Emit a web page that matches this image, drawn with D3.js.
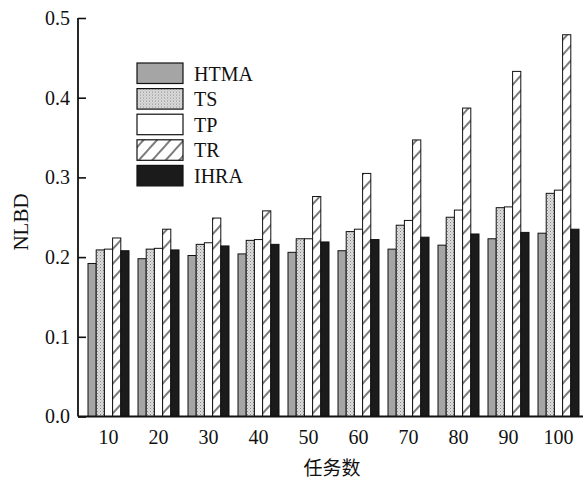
<!DOCTYPE html>
<html>
<head>
<meta charset="utf-8">
<script src="https://cdn.jsdelivr.net/npm/d3@7"></script>
<style>
  body { margin: 0; background: #fff; }
</style>
</head>
<body>
<svg id="chart" width="584" height="482"></svg>
<script>
// task counts on the x axis
var tasks = ['10', '20', '30', '40', '50', '60', '70', '80', '90', '100'];
var series = ['HTMA', 'TS', 'TP', 'TR', 'IHRA'];
var yTicks = [0, 0.1, 0.2, 0.3, 0.4, 0.5];

// NLBD values
var htma = [0.192, 0.198, 0.202, 0.204, 0.206, 0.208, 0.210, 0.215, 0.223, 0.230];
var ts   = [0.209, 0.210, 0.216, 0.221, 0.223, 0.232, 0.240, 0.250, 0.262, 0.280];
var tp   = [0.210, 0.211, 0.218, 0.222, 0.223, 0.235, 0.246, 0.259, 0.263, 0.284];
var tr   = [0.224, 0.235, 0.249, 0.258, 0.276, 0.305, 0.347, 0.387, 0.433, 0.479];
var ihra = [0.208, 0.209, 0.214, 0.216, 0.219, 0.222, 0.225, 0.229, 0.231, 0.235];

var values = { HTMA: htma, TS: ts, TP: tp, TR: tr, IHRA: ihra };

var serif = '"Liberation Serif", serif';

var svg = d3.select('#chart');
var defs = svg.append('defs');

// stipple for TS
var dots = defs.append('pattern').attr('id', 'dots')
  .attr('patternUnits', 'userSpaceOnUse').attr('width', 3).attr('height', 3);
dots.append('rect').attr('width', 3).attr('height', 3).attr('fill', '#dedede');
dots.append('rect').attr('x', 0).attr('y', 0).attr('width', 1).attr('height', 1).attr('fill', '#858585');
dots.append('rect').attr('x', 1.5).attr('y', 1.5).attr('width', 1).attr('height', 1).attr('fill', '#a0a0a0');

// diagonal hatch for TR
var hatch = defs.append('pattern').attr('id', 'hatch')
  .attr('patternUnits', 'userSpaceOnUse').attr('width', 10).attr('height', 10)
  .attr('patternTransform', 'rotate(-48)');
hatch.append('rect').attr('width', 10).attr('height', 10).attr('fill', '#fff');
hatch.append('line').attr('x1', 0).attr('x2', 10).attr('y1', 5).attr('y2', 5)
  .attr('stroke', '#111').attr('stroke-width', 1.1);

var fills = { HTMA: '#a5a5a5', TS: 'url(#dots)', TP: '#fff', TR: 'url(#hatch)', IHRA: '#1b1b1b' };

var x0 = 78, x1 = 583, yBase = 416.5, yTop = 18;

var x = d3.scaleBand().domain(tasks).range([83.5, 583.5])
  .paddingInner(0.18).paddingOuter(0.09);
var xs = d3.scaleBand().domain(series).range([0, x.bandwidth()]);
var y = d3.scaleLinear().domain([0, 0.5]).range([yBase, yTop]);

// bars
var groups = svg.append('g').selectAll('g')
  .data(tasks)
  .join('g')
  .attr('transform', function(d) { return 'translate(' + x(d) + ',0)'; });

groups.selectAll('rect')
  .data(function(d, i) {
    return series.map(function(s) { return { key: s, value: values[s][i] }; });
  })
  .join('rect')
  .attr('x', function(d) { return xs(d.key); })
  .attr('y', function(d) { return y(d.value); })
  .attr('width', xs.bandwidth())
  .attr('height', function(d) { return yBase - y(d.value); })
  .attr('fill', function(d) { return fills[d.key]; })
  .attr('stroke', '#111')
  .attr('stroke-width', 1);

// y axis, ticks point inward
var yAxis = svg.append('g').attr('transform', 'translate(' + x0 + ',0)')
  .call(d3.axisRight(y).tickValues(yTicks).tickSize(8).tickFormat(d3.format('.1f')));
yAxis.attr('font-family', serif);
yAxis.select('.domain').remove();
yAxis.selectAll('.tick line').attr('stroke', '#111').attr('stroke-width', 1.6);
yAxis.selectAll('.tick text')
  .attr('x', -8).attr('text-anchor', 'end')
  .style('font-family', serif).style('font-size', '20px').attr('fill', '#111');

svg.append('line').attr('x1', x0).attr('x2', x0).attr('y1', y(0.5)).attr('y2', yBase)
  .attr('stroke', '#111').attr('stroke-width', 1.8);
svg.append('line').attr('x1', x0).attr('x2', x1).attr('y1', yBase).attr('y2', yBase)
  .attr('stroke', '#111').attr('stroke-width', 1.8);

// x labels
var xAxis = svg.append('g').attr('transform', 'translate(0,' + yBase + ')')
  .call(d3.axisBottom(x).tickSize(0).tickPadding(12));
xAxis.attr('font-family', serif);
xAxis.select('.domain').remove();
xAxis.selectAll('.tick text')
  .attr('dy', '0.75em')
  .style('font-family', serif).style('font-size', '20px').attr('fill', '#111');

// axis titles
svg.append('text').attr('x', 332).attr('y', 475).attr('text-anchor', 'middle')
  .style('font-family', '"Noto Sans CJK SC", sans-serif').style('font-size', '19px')
  .attr('fill', '#111').text('任务数');

svg.append('text').attr('transform', 'translate(28,222) rotate(-90)')
  .attr('text-anchor', 'middle').style('font-family', serif).style('font-size', '21px')
  .attr('fill', '#111').text('NLBD');

// legend
var legend = svg.append('g').attr('transform', 'translate(137,63)');
var item = legend.selectAll('g').data(series).join('g')
  .attr('transform', function(d, i) { return 'translate(0,' + (i * 25.6) + ')'; });
item.append('rect').attr('width', 46).attr('height', 20.5)
  .attr('fill', function(d) { return fills[d]; })
  .attr('stroke', '#111').attr('stroke-width', 1.2);
item.append('text').attr('x', 57).attr('y', 10.5).attr('dy', '0.35em')
  .style('font-family', serif).style('font-size', '20px').attr('fill', '#111')
  .text(function(d) { return d; });
</script>
</body>
</html>
